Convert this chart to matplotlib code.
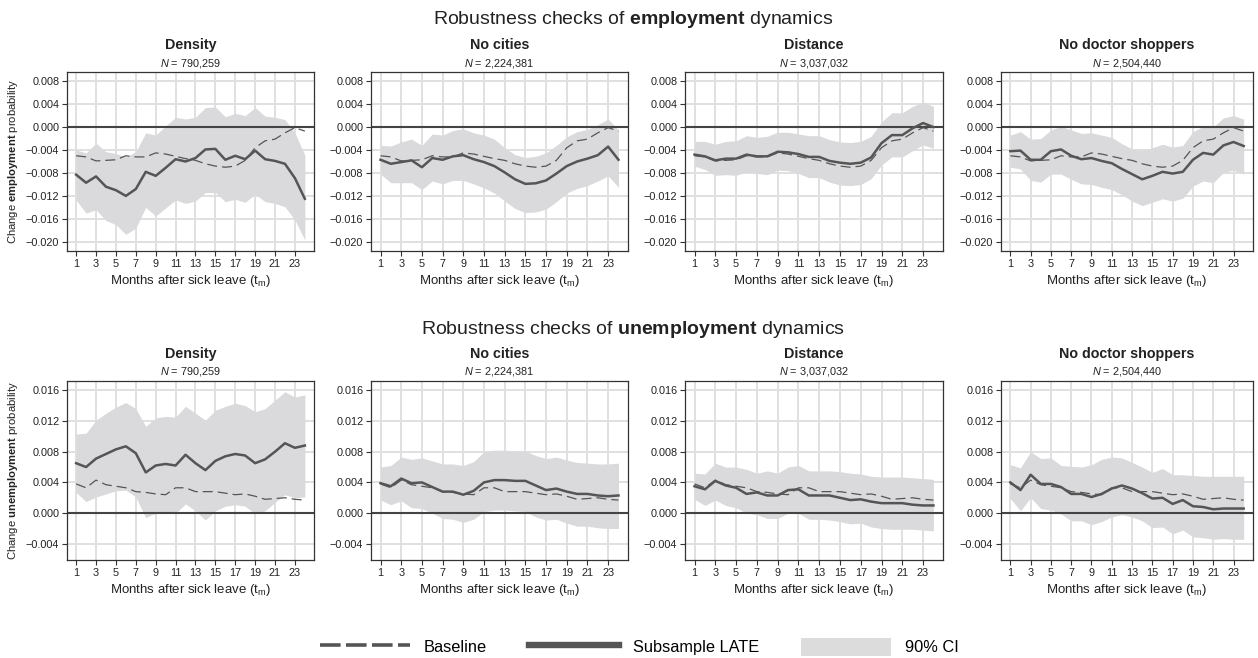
import matplotlib
matplotlib.use("Agg")
import matplotlib.pyplot as plt
import numpy as np
from matplotlib.lines import Line2D
from matplotlib.patches import Patch

plt.rcParams['font.family'] = ['Liberation Sans', 'DejaVu Sans']
plt.rcParams['mathtext.fontset'] = 'custom'
plt.rcParams['mathtext.rm'] = 'Liberation Sans'
plt.rcParams['mathtext.it'] = 'Liberation Sans:italic'
plt.rcParams['mathtext.bf'] = 'Liberation Sans:bold'

months = list(range(1, 25))
panel_names = ["Density", "No cities", "Distance", "No doctor shoppers"]
panel_n = ["790,259", "2,224,381", "3,037,032", "2,504,440"]

#Baseline estimates (same in every panel of a row)
emp_baseline = [-0.0050, -0.0052, -0.0059, -0.0058, -0.0057, -0.0050, -0.0052, -0.0052, -0.0045, -0.0047,
                -0.0051, -0.0055, -0.0058, -0.0064, -0.0068, -0.0070, -0.0068, -0.0058, -0.0036, -0.0024,
                -0.0021, -0.0010, -0.0001, -0.0007]
unemp_baseline = [0.0038, 0.0033, 0.0043, 0.0037, 0.0035, 0.0033, 0.0028, 0.0027, 0.0025, 0.0024,
                  0.0033, 0.0033, 0.0028, 0.0028, 0.0028, 0.0026, 0.0024, 0.0025, 0.0022, 0.0018,
                  0.0019, 0.0020, 0.0018, 0.0017]

#Employment: subsample LATE, lower and upper CI
emp_density_late = [-0.0083, -0.0097, -0.0086, -0.0104, -0.0110, -0.0120, -0.0108, -0.0078, -0.0085, -0.0071,
                    -0.0056, -0.0060, -0.0054, -0.0039, -0.0038, -0.0057, -0.0050, -0.0056, -0.0041, -0.0056,
                    -0.0059, -0.0064, -0.0089, -0.0125]
emp_density_lo = [-0.0127, -0.0150, -0.0144, -0.0163, -0.0170, -0.0187, -0.0176, -0.0140, -0.0155, -0.0141,
                  -0.0127, -0.0133, -0.0129, -0.0114, -0.0114, -0.0130, -0.0126, -0.0131, -0.0117, -0.0130,
                  -0.0133, -0.0139, -0.0162, -0.0197]
emp_density_hi = [-0.0040, -0.0045, -0.0028, -0.0043, -0.0046, -0.0052, -0.0043, -0.0010, -0.0014, 0.0002,
                  0.0017, 0.0014, 0.0017, 0.0034, 0.0035, 0.0018, 0.0024, 0.0020, 0.0034, 0.0019,
                  0.0017, 0.0013, -0.0010, -0.0049]

emp_cities_late = [-0.0057, -0.0064, -0.0061, -0.0058, -0.0070, -0.0054, -0.0057, -0.0051, -0.0049, -0.0056,
                   -0.0061, -0.0068, -0.0079, -0.0091, -0.0099, -0.0098, -0.0093, -0.0081, -0.0068, -0.0060,
                   -0.0055, -0.0049, -0.0034, -0.0057]
emp_cities_lo = [-0.0082, -0.0097, -0.0097, -0.0097, -0.0109, -0.0094, -0.0099, -0.0093, -0.0093, -0.0099,
                 -0.0106, -0.0115, -0.0129, -0.0142, -0.0149, -0.0148, -0.0143, -0.0130, -0.0115, -0.0107,
                 -0.0102, -0.0094, -0.0085, -0.0105]
emp_cities_hi = [-0.0032, -0.0033, -0.0026, -0.0021, -0.0032, -0.0012, -0.0014, -0.0006, -0.0003, -0.0010,
                 -0.0014, -0.0021, -0.0036, -0.0048, -0.0053, -0.0051, -0.0045, -0.0032, -0.0017, -0.0008,
                 -0.0004, 0.0004, 0.0014, -0.0005]

emp_distance_late = [-0.0048, -0.0051, -0.0058, -0.0055, -0.0055, -0.0048, -0.0051, -0.0051, -0.0043, -0.0044,
                     -0.0047, -0.0052, -0.0052, -0.0059, -0.0062, -0.0064, -0.0062, -0.0053, -0.0028, -0.0014,
                     -0.0014, -0.0002, 0.0007, 0.0000]
emp_distance_lo = [-0.0068, -0.0074, -0.0084, -0.0083, -0.0084, -0.0078, -0.0081, -0.0083, -0.0075, -0.0076,
                   -0.0081, -0.0088, -0.0088, -0.0096, -0.0101, -0.0102, -0.0100, -0.0090, -0.0066, -0.0052,
                   -0.0052, -0.0041, -0.0031, -0.0037]
emp_distance_hi = [-0.0025, -0.0025, -0.0030, -0.0025, -0.0024, -0.0015, -0.0018, -0.0016, -0.0009, -0.0009,
                   -0.0012, -0.0015, -0.0015, -0.0022, -0.0026, -0.0027, -0.0025, -0.0016, 0.0009, 0.0025,
                   0.0025, 0.0036, 0.0044, 0.0036]

emp_doctor_late = [-0.0042, -0.0041, -0.0057, -0.0057, -0.0042, -0.0039, -0.0050, -0.0056, -0.0054, -0.0059,
                   -0.0063, -0.0073, -0.0082, -0.0091, -0.0085, -0.0078, -0.0081, -0.0078, -0.0057, -0.0045,
                   -0.0048, -0.0032, -0.0026, -0.0033]
emp_doctor_lo = [-0.0070, -0.0073, -0.0093, -0.0096, -0.0082, -0.0082, -0.0091, -0.0099, -0.0100, -0.0105,
                 -0.0109, -0.0118, -0.0129, -0.0137, -0.0131, -0.0125, -0.0129, -0.0124, -0.0103, -0.0094,
                 -0.0097, -0.0079, -0.0075, -0.0082]
emp_doctor_hi = [-0.0014, -0.0008, -0.0021, -0.0020, -0.0005, 0.0001, -0.0005, -0.0011, -0.0010, -0.0014,
                 -0.0018, -0.0029, -0.0038, -0.0041, -0.0036, -0.0030, -0.0035, -0.0032, -0.0008, 0.0001,
                 0.0000, 0.0016, 0.0020, 0.0014]

#Unemployment: subsample LATE, lower and upper CI
unemp_density_late = [0.0065, 0.0060, 0.0071, 0.0077, 0.0083, 0.0087, 0.0078, 0.0053, 0.0062, 0.0064,
                      0.0062, 0.0076, 0.0065, 0.0056, 0.0068, 0.0074, 0.0077, 0.0075, 0.0065, 0.0070,
                      0.0080, 0.0091, 0.0085, 0.0088]
unemp_density_lo = [0.0027, 0.0015, 0.0021, 0.0025, 0.0029, 0.0030, 0.0021, -0.0006, 0.0000, 0.0002,
                    0.0000, 0.0012, 0.0003, -0.0009, 0.0003, 0.0009, 0.0011, 0.0009, -0.0001, 0.0003,
                    0.0014, 0.0024, 0.0020, 0.0021]
unemp_density_hi = [0.0103, 0.0104, 0.0121, 0.0130, 0.0138, 0.0144, 0.0136, 0.0113, 0.0124, 0.0126,
                    0.0125, 0.0139, 0.0130, 0.0121, 0.0134, 0.0139, 0.0143, 0.0140, 0.0132, 0.0136,
                    0.0147, 0.0158, 0.0151, 0.0154]

unemp_cities_late = [0.0039, 0.0035, 0.0045, 0.0039, 0.0040, 0.0034, 0.0028, 0.0028, 0.0024, 0.0029,
                     0.0040, 0.0043, 0.0043, 0.0042, 0.0042, 0.0036, 0.0030, 0.0032, 0.0028, 0.0025,
                     0.0025, 0.0023, 0.0022, 0.0023]
unemp_cities_lo = [0.0017, 0.0011, 0.0016, 0.0007, 0.0006, 0.0000, -0.0007, -0.0008, -0.0012, -0.0008,
                   0.0002, 0.0004, 0.0004, 0.0003, 0.0002, -0.0005, -0.0009, -0.0008, -0.0013, -0.0017,
                   -0.0017, -0.0019, -0.0020, -0.0020]
unemp_cities_hi = [0.0060, 0.0062, 0.0073, 0.0070, 0.0072, 0.0068, 0.0064, 0.0064, 0.0062, 0.0067,
                   0.0080, 0.0082, 0.0082, 0.0081, 0.0081, 0.0075, 0.0071, 0.0073, 0.0069, 0.0066,
                   0.0065, 0.0064, 0.0064, 0.0065]

unemp_distance_late = [0.0035, 0.0031, 0.0042, 0.0036, 0.0033, 0.0025, 0.0027, 0.0023, 0.0023, 0.0030,
                       0.0031, 0.0023, 0.0023, 0.0023, 0.0020, 0.0017, 0.0018, 0.0015, 0.0013, 0.0013,
                       0.0013, 0.0011, 0.0010, 0.0010]
unemp_distance_lo = [0.0018, 0.0010, 0.0017, 0.0010, 0.0007, 0.0000, -0.0002, -0.0007, -0.0007, 0.0000,
                     0.0000, -0.0008, -0.0008, -0.0009, -0.0011, -0.0014, -0.0013, -0.0018, -0.0020, -0.0021,
                     -0.0021, -0.0021, -0.0022, -0.0023]
unemp_distance_hi = [0.0052, 0.0051, 0.0065, 0.0060, 0.0060, 0.0057, 0.0052, 0.0055, 0.0052, 0.0060,
                     0.0062, 0.0055, 0.0055, 0.0055, 0.0054, 0.0052, 0.0051, 0.0048, 0.0047, 0.0047,
                     0.0047, 0.0046, 0.0045, 0.0044]

unemp_doctor_late = [0.0040, 0.0030, 0.0050, 0.0038, 0.0038, 0.0034, 0.0025, 0.0025, 0.0021, 0.0025,
                     0.0032, 0.0036, 0.0032, 0.0026, 0.0019, 0.0020, 0.0012, 0.0017, 0.0009, 0.0008,
                     0.0005, 0.0006, 0.0006, 0.0006]
unemp_doctor_lo = [0.0019, 0.0003, 0.0020, 0.0006, 0.0004, -0.0001, -0.0010, -0.0010, -0.0015, -0.0011,
                   -0.0005, -0.0002, -0.0005, -0.0010, -0.0019, -0.0018, -0.0027, -0.0022, -0.0031, -0.0032,
                   -0.0034, -0.0033, -0.0034, -0.0034]
unemp_doctor_hi = [0.0063, 0.0059, 0.0080, 0.0071, 0.0072, 0.0062, 0.0061, 0.0060, 0.0063, 0.0070,
                   0.0073, 0.0072, 0.0066, 0.0060, 0.0053, 0.0058, 0.0050, 0.0050, 0.0049, 0.0048,
                   0.0048, 0.0048, 0.0048, 0.0048]

rows = [
    dict(title=r"Robustness checks of $\mathbf{employment}$ dynamics",
         ylabel=r"Change $\mathbf{employment}$ probability",
         baseline=emp_baseline,
         late=[emp_density_late, emp_cities_late, emp_distance_late, emp_doctor_late],
         lo=[emp_density_lo, emp_cities_lo, emp_distance_lo, emp_doctor_lo],
         hi=[emp_density_hi, emp_cities_hi, emp_distance_hi, emp_doctor_hi],
         yticks=np.arange(-0.020, 0.0081, 0.004), ylim=(-0.0216, 0.0096), top=72),
    dict(title=r"Robustness checks of $\mathbf{unemployment}$ dynamics",
         ylabel=r"Change $\mathbf{unemployment}$ probability",
         baseline=unemp_baseline,
         late=[unemp_density_late, unemp_cities_late, unemp_distance_late, unemp_doctor_late],
         lo=[unemp_density_lo, unemp_cities_lo, unemp_distance_lo, unemp_doctor_lo],
         hi=[unemp_density_hi, unemp_cities_hi, unemp_distance_hi, unemp_doctor_hi],
         yticks=np.arange(-0.004, 0.0161, 0.004), ylim=(-0.0061, 0.0172), top=381),
]

W, H = 1258, 658
fig = plt.figure(figsize=(W / 100, H / 100), dpi=100)

lefts = [67, 371, 685, 1001]
widths = [247, 257, 258, 252]
ax_h = 179
line_col = '#555555'
fill_col = '#dadadc'
grid_col = '#e0e0e0'
text_col = '#222222'

for r, row in enumerate(rows):
    top = row['top']
    fig.text(633 / W, 1 - (top - 52) / H, row['title'], ha='center', va='center',
             fontsize=14, color=text_col)
    for c in range(4):
        ax = fig.add_axes([lefts[c] / W, 1 - (top + ax_h) / H, widths[c] / W, ax_h / H])
        ax.set_axisbelow(True)
        ax.fill_between(months, row['lo'][c], row['hi'][c], color=fill_col, lw=0, zorder=1)
        ax.axhline(0, color='#444444', lw=1.5, zorder=2)
        ax.plot(months, row['baseline'], color=line_col, lw=0.9, dashes=(8, 4), zorder=3)
        ax.plot(months, row['late'][c], color=line_col, lw=1.8, zorder=4)
        ax.set_xlim(0.08, 24.92)
        ax.set_ylim(*row['ylim'])
        ax.set_xticks(range(1, 24, 2))
        ax.set_yticks(row['yticks'])
        ax.set_yticklabels([f"{v:.3f}".replace('-', '\u2212') if abs(v) > 1e-9 else "0.000"
                            for v in row['yticks']])
        ax.grid(True, color=grid_col, lw=1.4)
        ax.tick_params(direction='out', length=3.5, width=0.8, labelsize=7.8, pad=2,
                       color='#333333', labelcolor=text_col)
        for s in ax.spines.values():
            s.set_color('#333333')
            s.set_linewidth(0.9)
        ax.set_xlabel(r"Months after sick leave (t$_{\mathrm{m}}$)", fontsize=9.5, color=text_col, labelpad=3)
        if c == 0:
            ax.set_ylabel(row['ylabel'], fontsize=8.1, color=text_col, labelpad=4)
        cx = (lefts[c] + widths[c] / 2) / W
        fig.text(cx, 1 - (top - 27) / H, panel_names[c], ha='center', va='center',
                 fontsize=10.3, fontweight='bold', color=text_col)
        fig.text(cx, 1 - (top - 9) / H, r"$N$ = " + panel_n[c], ha='center', va='center',
                 fontsize=7.8, color=text_col)

handles = [Line2D([], [], color=line_col, lw=2.6, dashes=(5.7, 1.5)),
           Line2D([], [], color=line_col, lw=4.6),
           Patch(facecolor='#dcdcdc', edgecolor='none')]
fig.legend(handles, ["Baseline", "Subsample LATE", "90% CI"], loc='center',
           bbox_to_anchor=(639 / W, 1 - 647 / H), ncol=3, frameon=False, fontsize=11.8,
           handlelength=5.5, handleheight=1.3, handletextpad=0.85, columnspacing=2.55)

fig.savefig("out.png", dpi=100)
